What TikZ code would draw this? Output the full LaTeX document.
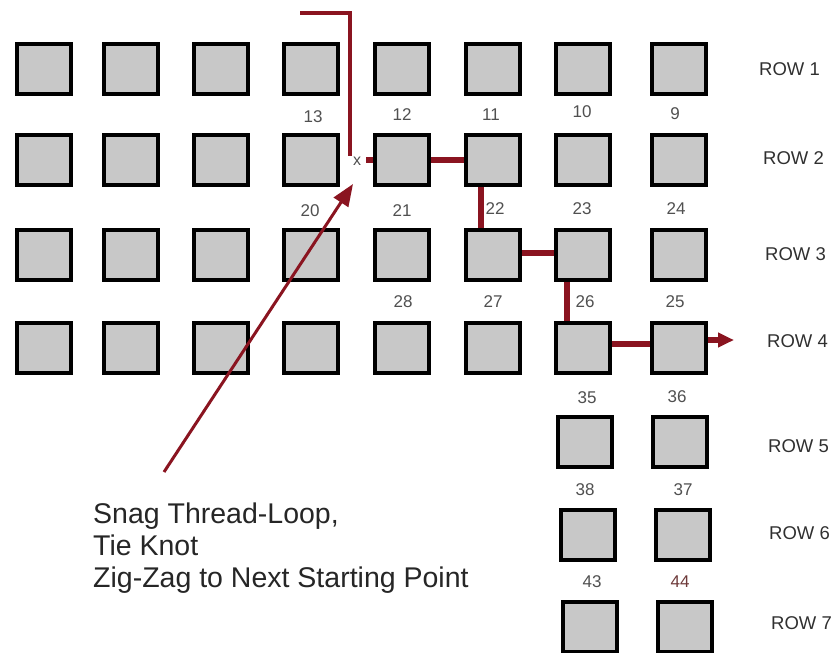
\documentclass[tikz,border=0pt]{standalone}
\usepackage{fontspec}
\setmainfont{Liberation Sans}
\usetikzlibrary{arrows.meta}
\definecolor{thread}{HTML}{8A1420}
\definecolor{boxfill}{HTML}{C8C8C8}
\definecolor{numgray}{HTML}{505050}
\definecolor{rowgray}{HTML}{303030}
\definecolor{numred}{HTML}{6E3A3A}
\tikzset{
  sq/.style={draw=black, fill=boxfill, line width=4pt, minimum width=53.5pt, minimum height=50.5pt, inner sep=0pt},
  num/.style={font=\fontsize{17}{17}\selectfont, text=numgray, inner sep=0pt},
  rowlab/.style={font=\fontsize{18.5}{18.5}\selectfont, text=rowgray, inner sep=0pt, anchor=west},
  thr/.style={draw=thread, line width=5.5pt},
  pointer/.style={draw=thread, line width=3pt, -{Triangle[length=22pt,width=17pt]}},
  note/.style={font=\fontsize{28.5}{28.5}\selectfont, text=black!85, inner sep=0pt, anchor=base west},
  xmark/.style={font=\fontsize{16}{16}\selectfont, text=numgray, inner sep=0pt}
}
\begin{document}
\begin{tikzpicture}[x=1pt,y=-1pt]
\useasboundingbox[fill=white] (0,0) rectangle (838,653);
% squares rows 1-4
\foreach \r/\y in {1/69,2/160,3/255,4/348}{
  \foreach \c/\x in {1/44,2/131,3/221,4/311,5/402,6/493,7/583,8/679}{
    \node[sq] (s-\r-\c) at (\x,\y) {};
  }
}
% squares rows 5-7
\node[sq] (s-5-7) at (585,442) {};
\node[sq] (s-5-8) at (680,442) {};
\node[sq] (s-6-7) at (588,535) {};
\node[sq] (s-6-8) at (683,535) {};
\node[sq] (s-7-7) at (590,627) {};
\node[sq] (s-7-8) at (685,627) {};
% numbers
\node[num] (n13) at (313,117) {13};
\node[num] (n12) at (402,115) {12};
\node[num] (n11) at (491,115) {11};
\node[num] (n10) at (582,112) {10};
\node[num] (n9) at (675,114) {9};
\node[num] (n20) at (310,211) {20};
\node[num] (n21) at (402,211) {21};
\node[num] (n22) at (495,209) {22};
\node[num] (n23) at (582,209) {23};
\node[num] (n24) at (676,209) {24};
\node[num] (n28) at (403,302) {28};
\node[num] (n27) at (493,302) {27};
\node[num] (n26) at (585,302) {26};
\node[num] (n25) at (675,302) {25};
\node[num] (n35) at (587,398) {35};
\node[num] (n36) at (677,397) {36};
\node[num] (n38) at (585,490) {38};
\node[num] (n37) at (683,490) {37};
\node[num] (n43) at (592,582) {43};
\node[num, text=numred] (n44) at (680,582) {44};
% row labels
\node[rowlab] (r1) at (759,69) {ROW 1};
\node[rowlab] (r2) at (763,158) {ROW 2};
\node[rowlab] (r3) at (765,254) {ROW 3};
\node[rowlab] (r4) at (767,341) {ROW 4};
\node[rowlab] (r5) at (768,446) {ROW 5};
\node[rowlab] (r6) at (769,533) {ROW 6};
\node[rowlab] (r7) at (771,623) {ROW 7};
% thread path
\coordinate (t0) at (300,13);
\coordinate (t1) at (350,13);
\coordinate (t2) at (350,156);
\draw[thr, line width=4.5pt, line join=miter] (t0) -- (t1) -- (t2);
\node[xmark] (xm) at (357,161) {x};
\coordinate (t3) at (366,160);
\draw[thr] (t3) -- (s-2-5.west);
\draw[thr] (s-2-5.east) -- (s-2-6.west);
\draw[thr] ([xshift=-12pt]s-2-6.south) -- ([xshift=-12pt]s-3-6.north);
\draw[thr] ([yshift=2pt]s-3-6.east) -- ([yshift=2pt]s-3-7.west);
\draw[thr] ([xshift=-16pt]s-3-7.south) -- ([xshift=-16pt]s-4-7.north);
\draw[thr] ([yshift=4pt]s-4-7.east) -- ([yshift=4pt]s-4-8.west);
\coordinate (tend) at (734,340);
\draw[thr, -{Triangle[length=16pt,width=14pt]}] ([yshift=8pt]s-4-8.east) -- (tend);
% pointer arrow
\coordinate (a0) at (164,472);
\coordinate (a1) at (353,184);
\draw[pointer] (a0) -- (a1);
% note text
\node[note] (l1) at (93,523) {Snag Thread-Loop,};
\node[note] (l2) at (93,555) {Tie Knot};
\node[note] (l3) at (93,587) {Zig-Zag to Next Starting Point};
\end{tikzpicture}
\end{document}
